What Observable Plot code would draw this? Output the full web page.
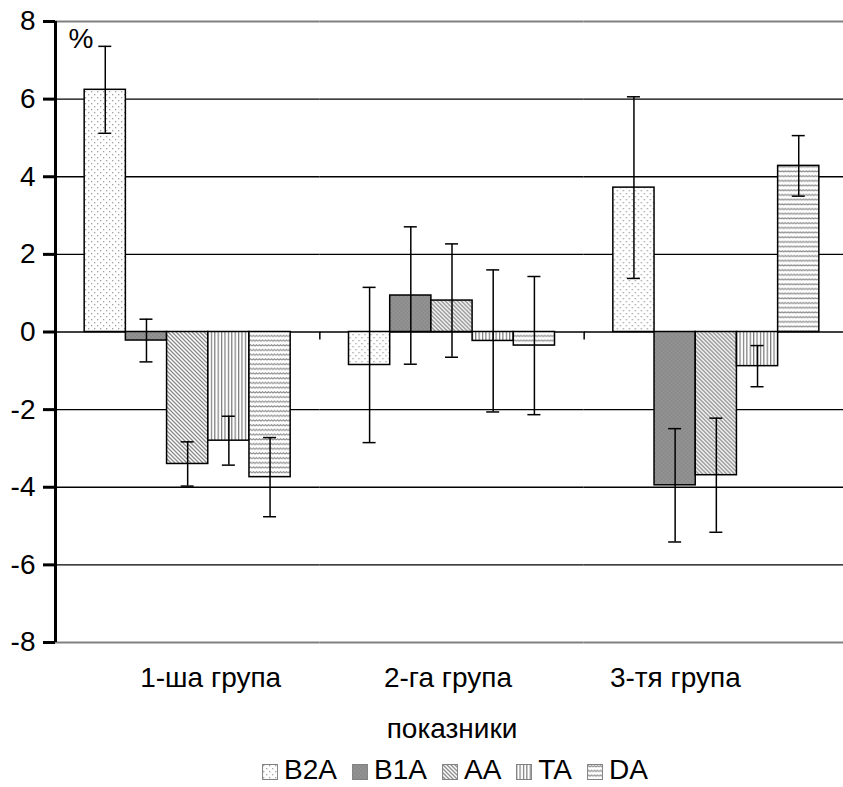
<!DOCTYPE html>
<html>
<head>
<meta charset="utf-8">
<script src="https://cdn.jsdelivr.net/npm/d3@7"></script>
<script src="https://cdn.jsdelivr.net/npm/@observablehq/plot@0.6"></script>
<style>
  html, body { margin: 0; padding: 0; background: #fff; overflow: hidden; }
  #wrap { position: relative; width: 843px; height: 787px; overflow: hidden; font-family: "Liberation Sans", Arial, sans-serif; color: #000; }
  #xtitle { position: absolute; left: 452px; top: 714px; transform: translateX(-50%); font-size: 28px; line-height: 30px; white-space: nowrap; }
  #legend { position: absolute; left: 455px; top: 758px; transform: translateX(-50%); font-size: 28px; line-height: 24px; white-space: nowrap; display: flex; align-items: center; }
  .item { display: flex; align-items: center; margin-right: 15px; }
  .item:last-child { margin-right: 0; }
  .item svg { margin-right: 6px; margin-top: 3px; }
</style>
</head>
<body>
<div id="wrap">
  <div id="chart"></div>
  <div id="xtitle"></div>
  <div id="legend"></div>
</div>
<script>
// ---- data ----
const groups = ["1-ша група", "2-га група", "3-тя група"];
const series = ["B2A", "B1A", "AA", "TA", "DA"];
const valuesB2A = [6.24, -0.85, 3.72];
const valuesB1A = [-0.22, 0.94, -3.95];
const valuesAA  = [-3.40, 0.81, -3.69];
const valuesTA  = [-2.80, -0.23, -0.88];
const valuesDA  = [-3.74, -0.35, 4.28];
const errorsB2A = [1.12, 2.00, 2.34];
const errorsB1A = [0.55, 1.77, 1.46];
const errorsAA  = [0.57, 1.46, 1.47];
const errorsTA  = [0.63, 1.83, 0.53];
const errorsDA  = [1.02, 1.78, 0.78];
const yTicks = [-8, -6, -4, -2, 0, 2, 4, 6, 8];
const yUnit = "%";
const xTitle = "показники";

// ---- table built from arrays ----
const values = {B2A: valuesB2A, B1A: valuesB1A, AA: valuesAA, TA: valuesTA, DA: valuesDA};
const errors = {B2A: errorsB2A, B1A: errorsB1A, AA: errorsAA, TA: errorsTA, DA: errorsDA};
const table = groups.flatMap((g, i) => series.map(s => ({group: g, series: s, value: values[s][i], err: errors[s][i]})));

// ---- layout ----
const W = 848, H = 700, mL = 55, mT = 21, mB = 58;
const yMin = yTicks[0], yMax = yTicks[yTicks.length - 1];
const padOuter = 0.708;
const facetW = (W - mL) / groups.length;
const step = facetW / (series.length + 2 * padOuter);
const edgeDx = -(padOuter + 0.5) * step;
const capInset = (step - 13) / 2;
const labelDx = [23, -4, -41];

const font = "Liberation Sans, Arial, sans-serif";

const chart = Plot.plot({
  width: W, height: H,
  marginLeft: mL, marginRight: 0, marginTop: mT, marginBottom: mB,
  style: {fontFamily: font, fontSize: "28px", background: "white", maxWidth: "none", overflow: "visible"},
  fx: {domain: groups, padding: 0, round: false, axis: null},
  x: {domain: series, paddingInner: 0, paddingOuter: padOuter, round: false, axis: null},
  y: {domain: [yMin, yMax]},
  color: {domain: series, range: series.map(s => `url(#pat-${s})`)},
  marks: [
    Plot.ruleY(yTicks.filter(t => t > yMin && t < yMax), {stroke: "#000", strokeWidth: 1.4}),
    Plot.ruleY([yMin, yMax], {stroke: "#808080", strokeWidth: 2}),
    Plot.barY(table, {fx: "group", x: "series", y: "value", fill: "series", stroke: "#000", strokeWidth: 1.5}),
    Plot.ruleX(table, {fx: "group", x: "series", y1: d => d.value - d.err, y2: d => d.value + d.err, stroke: "#000", strokeWidth: 1.5}),
    Plot.tickY(table, {fx: "group", x: "series", y: d => d.value - d.err, insetLeft: capInset, insetRight: capInset, stroke: "#000", strokeWidth: 1.5}),
    Plot.tickY(table, {fx: "group", x: "series", y: d => d.value + d.err, insetLeft: capInset, insetRight: capInset, stroke: "#000", strokeWidth: 1.5}),
    Plot.ruleX(groups, {fx: d => d, x: () => series[0], y1: 0, y2: 0, dx: edgeDx, insetBottom: -8, stroke: "#000", strokeWidth: 1.5}),
    Plot.ruleX([groups[0]], {fx: d => d, x: () => series[0], y1: yMin, y2: yMax, dx: edgeDx, stroke: "#000", strokeWidth: 3}),
    Plot.axisY({ticks: yTicks, tickFormat: d => `${d}`, tickSize: 12, tickPadding: 8, stroke: "#000", strokeWidth: 3, fontSize: 28, label: null}),
    Plot.text([yUnit], {fx: () => groups[0], text: d => d, frameAnchor: "top-left", dx: 13, dy: 7, fontSize: 28}),
    ...groups.map((g, i) => Plot.text([g], {fx: d => d, text: d => d, frameAnchor: "bottom", dy: 44, dx: labelDx[i], fontSize: 28}))
  ]
});

// patterns
const defs = document.createElementNS("http://www.w3.org/2000/svg", "defs");
defs.innerHTML = `
<pattern id="pat-B2A" patternUnits="userSpaceOnUse" width="6" height="6">
  <rect width="6" height="6" fill="#fff"/>
  <rect x="1" y="1" width="1.3" height="1.3" fill="#a0a0a0"/>
  <rect x="4" y="4" width="1.3" height="1.3" fill="#a0a0a0"/>
</pattern>
<pattern id="pat-B1A" patternUnits="userSpaceOnUse" width="4" height="4">
  <rect width="4" height="4" fill="#8a8a8a"/>
  <rect width="2" height="2" fill="#939393"/>
  <rect x="2" y="2" width="2" height="2" fill="#939393"/>
</pattern>
<pattern id="pat-AA" patternUnits="userSpaceOnUse" width="4" height="4">
  <rect width="4" height="4" fill="#fff"/>
  <path d="M-1,-1 L5,5 M-1,3 L1,5 M3,-1 L5,1" stroke="#8a8a8a" stroke-width="1.3"/>
</pattern>
<pattern id="pat-TA" patternUnits="userSpaceOnUse" width="3.4" height="4">
  <rect width="3.4" height="4" fill="#fff"/>
  <rect x="0" y="0" width="1.2" height="4" fill="#7a7a7a"/>
</pattern>
<pattern id="pat-DA" patternUnits="userSpaceOnUse" width="6" height="4.7">
  <rect width="6" height="4.7" fill="#fff"/>
  <path d="M0,2.8 L1.5,1.6 L3,2.8 L4.5,1.6 L6,2.8" fill="none" stroke="#8a8a8a" stroke-width="1.1"/>
</pattern>`;
chart.insertBefore(defs, chart.firstChild);
chart.style.maxWidth = "none";
document.getElementById("chart").appendChild(chart);

document.getElementById("xtitle").textContent = xTitle;

const legend = document.getElementById("legend");
series.forEach(s => {
  const item = document.createElement("div");
  item.className = "item";
  item.innerHTML = `<svg width="16" height="16"><rect x="0.5" y="0.5" width="15" height="15" fill="url(#pat-${s})" stroke="#808080"/></svg><span>${s}</span>`;
  legend.appendChild(item);
});
</script>
</body>
</html>
